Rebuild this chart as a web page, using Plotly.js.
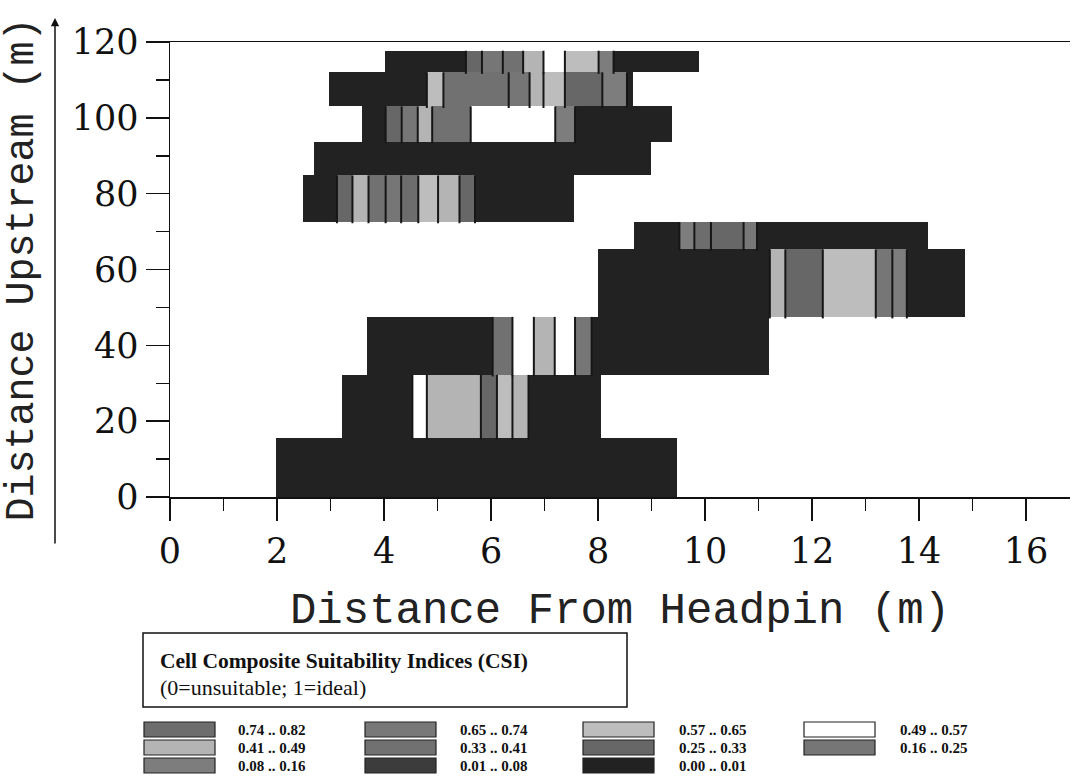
<!DOCTYPE html>
<html>
<head>
<meta charset="utf-8">
<script src="https://cdn.plot.ly/plotly-3.0.1.min.js"></script>
<style>
  html, body { margin: 0; padding: 0; background: #ffffff; overflow: hidden; }
  #chart { width: 1076px; height: 777px; }
</style>
</head>
<body>
<div id="chart"></div>
<script>
// ---------------- DATA ----------------
// CSI classes (legend order, row-major 4 columns)
const classLabels = ['0.74 .. 0.82', '0.65 .. 0.74', '0.57 .. 0.65', '0.49 .. 0.57',
                     '0.41 .. 0.49', '0.33 .. 0.41', '0.25 .. 0.33', '0.16 .. 0.25',
                     '0.08 .. 0.16', '0.01 .. 0.08', '0.00 .. 0.01'];
const classColors = ['#6d6d6d', '#787878', '#bdbdbd', '#ffffff',
                     '#b4b4b4', '#717171', '#676767', '#767676',
                     '#7d7d7d', '#3c3c3c', '#222222'];

// Cell rows: distance upstream (m) of bottom and top of each row
const rowBottoms = [0, 15.6, 32.2, 47.5, 65.3, 72.6, 84.8, 93.7, 103.0, 112.0];
const rowTops    = [15.6, 32.2, 47.5, 65.3, 72.5, 84.8, 93.7, 103.0, 112.0, 117.7];

// Cell edges along distance from headpin (m) for each row
const rowEdges = [
  [1.98, 9.48],
  [3.21, 4.53, 4.80, 5.81, 6.11, 6.40, 6.70, 8.05],
  [3.69, 6.03, 6.40, 6.80, 7.19, 7.57, 7.88, 11.20],
  [7.99, 11.21, 11.50, 12.20, 13.19, 13.50, 13.77, 14.86],
  [8.67, 9.52, 9.80, 10.11, 10.72, 10.97, 14.17],
  [2.49, 3.12, 3.41, 3.71, 4.03, 4.32, 4.64, 5.01, 5.41, 5.70, 7.55],
  [2.70, 8.98],
  [3.58, 4.03, 4.33, 4.63, 4.90, 5.62, 7.20, 7.57, 9.39],
  [2.98, 4.80, 5.11, 6.33, 6.72, 6.98, 7.38, 8.08, 8.54, 8.65],
  [4.01, 5.53, 5.83, 6.22, 6.60, 6.98, 7.38, 8.01, 8.29, 9.88]
];
// CSI class index (into classLabels) of each cell in each row
const rowClasses = [
  [10],
  [10, 3, 4, 6, 2, 4, 10],
  [10, 5, 3, 4, 3, 7, 10],
  [10, 4, 6, 2, 7, 8, 10],
  [10, 8, 0, 6, 1, 10],
  [10, 6, 4, 5, 7, 0, 2, 4, 6, 10],
  [10],
  [10, 6, 7, 4, 5, 3, 8, 10],
  [10, 2, 5, 7, 4, 2, 6, 8, 10],
  [10, 6, 7, 5, 4, 3, 2, 8, 10]
];

// ---------------- TRACES ----------------
const traces = [];
classLabels.forEach((lab, k) => {
  const ys = [], xs = [], bases = [], widths = [];
  rowEdges.forEach((edges, r) => {
    rowClasses[r].forEach((c, i) => {
      if (c !== k) return;
      ys.push((rowBottoms[r] + rowTops[r]) / 2);
      widths.push(rowTops[r] - rowBottoms[r]);
      bases.push(edges[i]);
      xs.push(edges[i + 1] - edges[i]);
    });
  });
  traces.push({
    type: 'bar', orientation: 'h', name: lab,
    x: xs, y: ys, base: bases, width: widths,
    marker: { color: classColors[k], line: { width: 0 } },
    hoverinfo: 'skip', showlegend: false
  });
});

// dark separators between neighbouring cells
const sepX = [], sepY = [];
rowEdges.forEach((edges, r) => {
  for (let i = 1; i < edges.length - 1; i++) {
    sepX.push(edges[i], edges[i], null);
    sepY.push(rowBottoms[r] - 0.4, rowTops[r], null);
  }
});
traces.push({
  type: 'scatter', mode: 'lines', x: sepX, y: sepY,
  line: { color: '#161616', width: 2 }, hoverinfo: 'skip', showlegend: false
});

// ---------------- LAYOUT ----------------
const W = 1076, H = 777;
const L = 170, R = 6, T = 42, B = 280;
const pw = W - L - R, ph = H - T - B;
const px2x = p => (p - L) / pw;
const px2y = p => (H - B - p) / ph;

const shapes = [];
const annotations = [];

// legend header box
shapes.push({ type: 'rect', xref: 'paper', yref: 'paper',
  x0: px2x(143), x1: px2x(627), y0: px2y(707), y1: px2y(633),
  line: { color: '#111', width: 1.5 }, fillcolor: 'rgba(0,0,0,0)' });
annotations.push({ xref: 'paper', yref: 'paper', x: px2x(158), y: px2y(661),
  xanchor: 'left', yanchor: 'middle', showarrow: false,
  text: '<b>Cell Composite Suitability Indices (CSI)</b>',
  font: { family: 'Liberation Serif', size: 21.5, color: '#111' } });
annotations.push({ xref: 'paper', yref: 'paper', x: px2x(158), y: px2y(687),
  xanchor: 'left', yanchor: 'middle', showarrow: false,
  text: '(0=unsuitable; 1=ideal)',
  font: { family: 'Liberation Serif', size: 22, color: '#111' } });

// legend swatches
const colSwatchX = [144, 365, 583, 804];
const colTextX = [236, 458, 677, 898];
const rowSwatchY = [722, 740, 758];
classLabels.forEach((lab, k) => {
  const c = k % 4, r = Math.floor(k / 4);
  shapes.push({ type: 'rect', xref: 'paper', yref: 'paper',
    x0: px2x(colSwatchX[c]), x1: px2x(colSwatchX[c] + 71),
    y0: px2y(rowSwatchY[r] + 15), y1: px2y(rowSwatchY[r]),
    line: { color: '#222', width: 1.2 }, fillcolor: classColors[k] });
  annotations.push({ xref: 'paper', yref: 'paper',
    x: px2x(colTextX[c]), y: px2y(rowSwatchY[r] + 7.5),
    xanchor: 'left', yanchor: 'middle', showarrow: false,
    text: '<b>' + lab + '</b>',
    font: { family: 'Liberation Serif', size: 15, color: '#111' } });
});

// upstream arrow line beside the y title
annotations.push({ xref: 'paper', yref: 'paper', x: px2x(55), y: px2y(18),
  ax: 0, ay: 527, text: '', showarrow: true, arrowhead: 2, arrowsize: 1.1,
  arrowwidth: 1.5, arrowcolor: '#111' });

const axisCommon = {
  showline: true, linecolor: '#111', linewidth: 1.5,
  ticks: 'outside', tickcolor: '#111', tickwidth: 1.5,
  showgrid: false, zeroline: false,
  tickfont: { family: 'DejaVu Serif', size: 35, color: '#111' }
};

const layout = {
  width: W, height: H,
  margin: { l: L, r: R, t: T, b: B },
  paper_bgcolor: '#ffffff', plot_bgcolor: '#ffffff',
  barmode: 'overlay', bargap: 0, showlegend: false,
  xaxis: Object.assign({}, axisCommon, {
    range: [0, 16.82], tick0: 0, dtick: 2, ticklen: 22, mirror: true,
    minor: { dtick: 1, ticklen: 12, tickwidth: 1.5, tickcolor: '#111', ticks: 'outside' },
    title: { text: 'Distance From Headpin (m)', standoff: 22,
      font: { family: 'Liberation Mono', size: 44, color: '#222' } }
  }),
  yaxis: Object.assign({}, axisCommon, {
    range: [0, 120], tick0: 0, dtick: 20, ticklen: 23,
    minor: { dtick: 10, ticklen: 13, tickwidth: 1.5, tickcolor: '#111', ticks: 'outside' },
    title: { text: 'Distance Upstream (m)', standoff: 28,
      font: { family: 'Liberation Mono', size: 40, color: '#222' } }
  }),
  shapes: shapes,
  annotations: annotations
};

Plotly.newPlot('chart', traces, layout, { displayModeBar: false, staticPlot: true });
</script>
</body>
</html>
